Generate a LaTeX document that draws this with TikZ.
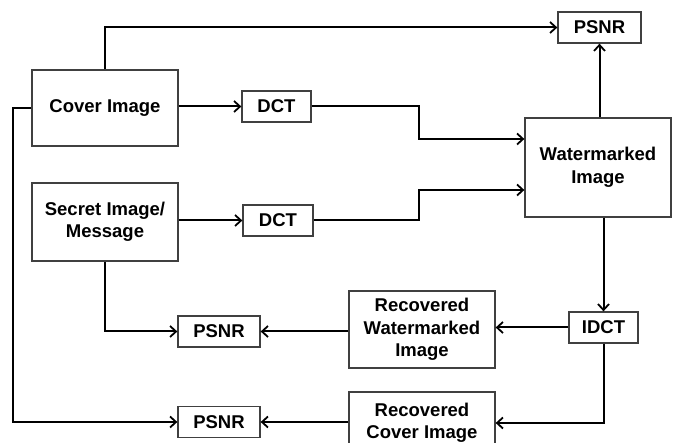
\documentclass[tikz,border=0pt]{standalone}
\usepackage{fontspec}
\setmainfont{Liberation Sans}
\usetikzlibrary{arrows.meta}
\begin{document}
\begin{tikzpicture}[x=1pt,y=-1pt,
  box/.style={draw=black!75, line width=1.3pt, fill=white, align=center, inner sep=0pt,
    font=\fontsize{18.5}{22.5}\selectfont\bfseries},
  conn/.style={line width=2pt, -{Straight Barb[length=6pt,width=11pt,line width=1.8pt]}},
  plain/.style={line width=2pt}]
\clip (0,0) rectangle (673,443);
\fill[white] (0,0) rectangle (673,443);
\node[box, minimum width=146pt, minimum height=76pt] (cover) at (105,108) {Cover Image};
\node[box, minimum width=69pt, minimum height=31pt] (dct1) at (276.5,106.5) {DCT};
\node[box, minimum width=146pt, minimum height=78pt] (secret) at (105,222) {Secret Image/\\Message};
\node[box, minimum width=70pt, minimum height=31pt] (dct2) at (278,220.5) {DCT};
\node[box, minimum width=83pt, minimum height=31pt] (psnr1) at (599.5,27.5) {PSNR};
\node[box, minimum width=146pt, minimum height=99pt] (wm) at (598,167.5) {Watermarked\\Image};
\node[box, minimum width=69pt, minimum height=31pt] (idct) at (603.5,327.5) {IDCT};
\node[box, minimum width=146pt, minimum height=77pt] (rw) at (422,329.5) {Recovered\\Watermarked\\Image};
\node[box, minimum width=82pt, minimum height=31pt] (psnr2) at (219,331.5) {PSNR};
\node[box, minimum width=82pt, minimum height=31pt] (psnr3) at (219,422) {PSNR};
\node[box, minimum width=146pt, minimum height=62pt] (rc) at (422,423) {Recovered\\Cover Image};
\coordinate (j1) at (419,139);
\coordinate (j2) at (419,190);
\coordinate (lft) at (13,422);
% connectors
\draw[conn] (cover.north) |- (psnr1.west);
\draw[conn] (cover.east |- dct1.west) -- (dct1.west);
\draw[conn] (dct1.east) -| (j1) -- (j1 -| wm.west);
\draw[conn] (secret.east |- dct2.west) -- (dct2.west);
\draw[conn] (dct2.east) -| (j2) -- (j2 -| wm.west);
\draw[conn] (wm.north -| psnr1.south) -- (psnr1.south);
\draw[conn] (idct.north |- wm.south) -- (idct.north);
\draw[conn] (idct.west) -- (idct.west -| rw.east);
\draw[conn] (rw.west |- psnr2.east) -- (psnr2.east);
\draw[conn] (secret.south) |- (psnr2.west);
\draw[conn] (idct.south) |- (rc.east);
\draw[conn] (rc.west |- psnr3.east) -- (psnr3.east);
\draw[conn] (cover.west) -| (lft) -- (psnr3.west);
\end{tikzpicture}
\end{document}
